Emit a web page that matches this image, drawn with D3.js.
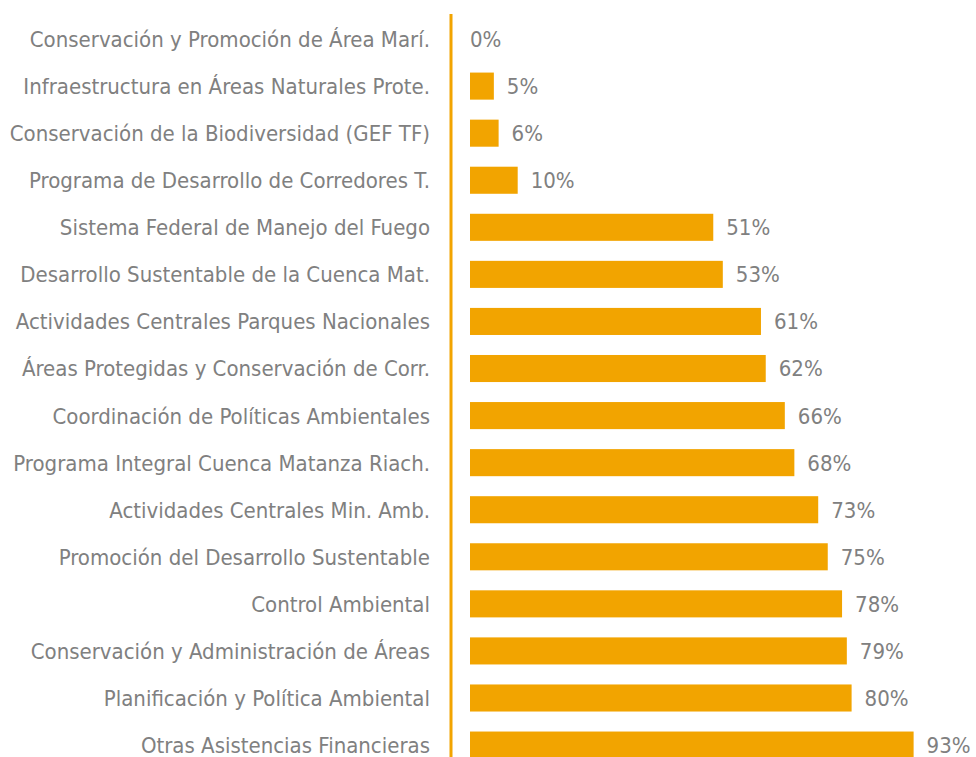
<!DOCTYPE html>
<html>
<head>
<meta charset="utf-8">
<script src="https://cdn.jsdelivr.net/npm/d3@7"></script>
<style>
  body { margin: 0; background: #fff; }
  text { font-family: "Liberation Sans Narrow", "DejaVu Sans Condensed", "Roboto", sans-serif; fill: #808080; }
</style>
</head>
<body>
<svg id="chart" width="976" height="757"></svg>
<script>
// programas y porcentaje de ejecucion
var programas = [
  "Conservación y Promoción de Área Marí.",
  "Infraestructura en Áreas Naturales Prote.",
  "Conservación de la Biodiversidad (GEF TF)",
  "Programa de Desarrollo de Corredores T.",
  "Sistema Federal de Manejo del Fuego",
  "Desarrollo Sustentable de la Cuenca Mat.",
  "Actividades Centrales Parques Nacionales",
  "Áreas Protegidas y Conservación de Corr.",
  "Coordinación de Políticas Ambientales",
  "Programa Integral Cuenca Matanza Riach.",
  "Actividades Centrales Min. Amb.",
  "Promoción del Desarrollo Sustentable",
  "Control Ambiental",
  "Conservación y Administración de Áreas",
  "Planificación y Política Ambiental",
  "Otras Asistencias Financieras"
];
var ejecucion = [0, 5, 6, 10, 51, 53, 61, 62, 66, 68, 73, 75, 78, 79, 80, 93];

var svg = d3.select("#chart");
var naranja = "#f2a400";

var x = d3.scaleLinear().domain([0, 100]).range([470, 947]);
var y = d3.scaleBand()
  .domain(programas)
  .range([15.5, 768.6])
  .paddingInner(0.425)
  .paddingOuter(0.2125);

var datos = programas.map(function(p, i){ return {nombre: p, valor: ejecucion[i]}; });

// barras
svg.selectAll("rect.barra")
  .data(datos)
  .enter().append("rect")
  .attr("class", "barra")
  .attr("x", x(0))
  .attr("y", function(d){ return y(d.nombre); })
  .attr("width", function(d){ return x(d.valor) - x(0); })
  .attr("height", y.bandwidth())
  .attr("fill", naranja);

// linea del eje
svg.append("line")
  .attr("x1", 451).attr("x2", 451)
  .attr("y1", 14).attr("y2", 757)
  .attr("stroke", naranja)
  .attr("stroke-width", 3);

// etiquetas de categorias
svg.selectAll("text.cat")
  .data(datos)
  .enter().append("text")
  .attr("class", "cat")
  .attr("x", 430)
  .attr("y", function(d){ return y(d.nombre) + y.bandwidth() / 2; })
  .attr("dy", "0.36em")
  .attr("text-anchor", "end")
  .style("font-size", "22px")
  .text(function(d){ return d.nombre; });

// valores
svg.selectAll("text.val")
  .data(datos)
  .enter().append("text")
  .attr("class", "val")
  .attr("x", function(d){ return d.valor > 0 ? x(d.valor) + 13 : x(0); })
  .attr("y", function(d){ return y(d.nombre) + y.bandwidth() / 2; })
  .attr("dy", "0.36em")
  .style("font-size", "22px")
  .text(function(d){ return d.valor + "%"; });
</script>
</body>
</html>
